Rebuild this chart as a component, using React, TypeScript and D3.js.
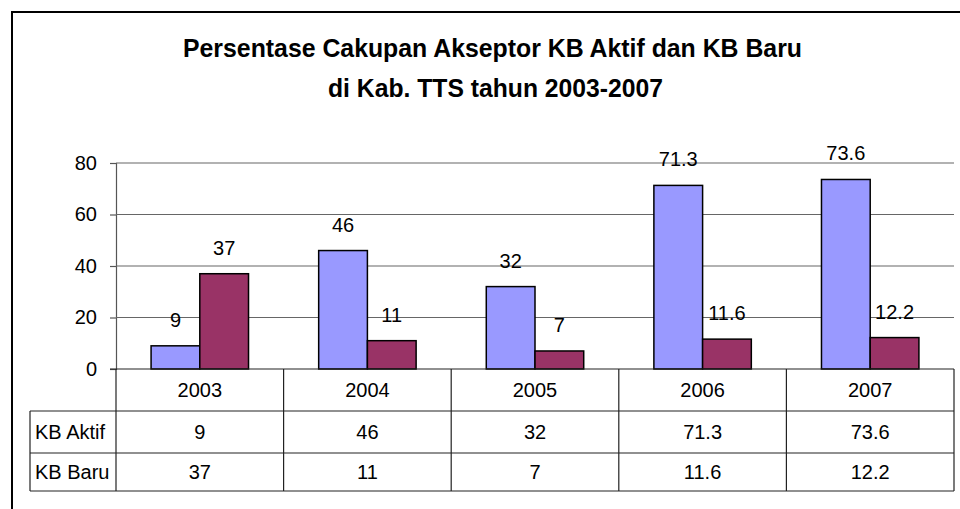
import React from "react";
import * as d3 from "d3";

const years = ["2003", "2004", "2005", "2006", "2007"];
const seriesNames = ["KB Aktif", "KB Baru"];
const kbAktif = [9, 46, 32, 71.3, 73.6];
const kbBaru = [37, 11, 7, 11.6, 12.2];
const yTicks = [0, 20, 40, 60, 80];
const colors = ["#9999FF", "#993366"];

const App = () => {
  const svgRef = React.useRef(null);
  const width = 960;
  const height = 509;
  const plot = { left: 116, right: 954, top: 163, bottom: 369 };
  const rowH = [42, 42, 38];
  const labelColLeft = 30;

  React.useEffect(() => {
    const svg = d3.select(svgRef.current);
    svg.selectAll("*").remove();
    const font = "'Liberation Sans', Arial, sans-serif";

    // outer frame
    svg.append("rect")
      .attr("x", 12).attr("y", 12)
      .attr("width", width + 20).attr("height", height + 20)
      .attr("fill", "white").attr("stroke", "black").attr("stroke-width", 2);

    // title
    const title = svg.append("g").attr("font-family", font).attr("font-weight", "bold")
      .attr("font-size", 26).attr("fill", "black");
    title.append("text").attr("x", 183).attr("y", 57)
      .attr("textLength", 619).attr("lengthAdjust", "spacingAndGlyphs")
      .text("Persentase Cakupan Akseptor KB Aktif dan KB Baru");
    title.append("text").attr("x", 328).attr("y", 97)
      .attr("textLength", 335).attr("lengthAdjust", "spacingAndGlyphs")
      .text("di Kab. TTS tahun 2003-2007");

    const y = d3.scaleLinear().domain([0, 80]).range([plot.bottom, plot.top]);
    const x0 = d3.scaleBand().domain(years).range([plot.left, plot.right]).padding(0);
    const x1 = d3.scaleBand().domain(seriesNames).range([0, x0.bandwidth()])
      .paddingInner(0).paddingOuter(0.72);

    // y axis with gridlines
    const yAxis = d3.axisLeft(y).tickValues(yTicks).tickSize(6).tickPadding(13);
    const yg = svg.append("g").attr("transform", `translate(${plot.left},0)`).call(yAxis);
    yg.select(".domain").attr("stroke", "#555").attr("stroke-width", 1.2);
    yg.selectAll("line").attr("stroke", "#555").attr("stroke-width", 1.2);
    yg.selectAll("text").attr("font-family", font).attr("font-size", 20).attr("fill", "black");

    svg.append("g").selectAll("line")
      .data(yTicks.filter((t) => t > 0))
      .enter().append("line")
      .attr("x1", plot.left).attr("x2", plot.right)
      .attr("y1", (d) => y(d)).attr("y2", (d) => y(d))
      .attr("stroke", "#666").attr("stroke-width", 1.2);

    // bars
    const data = years.map((yr, i) => ({ yr, values: [kbAktif[i], kbBaru[i]] }));
    const groups = svg.append("g").selectAll("g").data(data).enter().append("g")
      .attr("transform", (d) => `translate(${x0(d.yr)},0)`);
    groups.selectAll("rect")
      .data((d) => d.values.map((v, j) => ({ name: seriesNames[j], v, j })))
      .enter().append("rect")
      .attr("x", (d) => x1(d.name) as number)
      .attr("y", (d) => y(d.v))
      .attr("width", x1.bandwidth())
      .attr("height", (d) => plot.bottom - y(d.v))
      .attr("fill", (d) => colors[d.j])
      .attr("stroke", "black").attr("stroke-width", 1.5);
    groups.selectAll("text")
      .data((d) => d.values.map((v, j) => ({ name: seriesNames[j], v })))
      .enter().append("text")
      .attr("x", (d) => (x1(d.name) as number) + x1.bandwidth() / 2)
      .attr("y", (d) => y(d.v) - 19)
      .attr("text-anchor", "middle")
      .attr("font-family", font).attr("font-size", 20).attr("fill", "black")
      .text((d) => String(d.v));

    // data table
    const tbl = svg.append("g").attr("stroke", "#222").attr("stroke-width", 1.2);
    const r0 = plot.bottom;
    const r1 = r0 + rowH[0];
    const r2 = r1 + rowH[1];
    const r3 = r2 + rowH[2];
    tbl.append("line").attr("x1", plot.left - 6).attr("x2", plot.right).attr("y1", r0).attr("y2", r0);
    [r1, r2, r3].forEach((ry) => {
      tbl.append("line").attr("x1", labelColLeft).attr("x2", plot.right).attr("y1", ry).attr("y2", ry);
    });
    tbl.append("line").attr("x1", labelColLeft).attr("x2", labelColLeft).attr("y1", r1).attr("y2", r3);
    const bounds = years.map((yr) => x0(yr) as number).concat([plot.right]);
    bounds.forEach((bx) => {
      tbl.append("line").attr("x1", bx).attr("x2", bx).attr("y1", r0).attr("y2", r3);
    });

    const txt = svg.append("g").attr("font-family", font).attr("font-size", 20).attr("fill", "black");
    const cx = (yr: string) => (x0(yr) as number) + x0.bandwidth() / 2;
    txt.selectAll(".hdr").data(years).enter().append("text")
      .attr("x", (d) => cx(d)).attr("y", (r0 + r1) / 2 + 7)
      .attr("text-anchor", "middle").text((d) => d);
    const rows = [
      { name: seriesNames[0], vals: kbAktif, yc: (r1 + r2) / 2 + 7 },
      { name: seriesNames[1], vals: kbBaru, yc: (r2 + r3) / 2 + 7 },
    ];
    rows.forEach((row) => {
      txt.append("text").attr("x", labelColLeft + 5).attr("y", row.yc).text(row.name);
      txt.selectAll(null).data(row.vals).enter().append("text")
        .attr("x", (d, i) => cx(years[i])).attr("y", row.yc)
        .attr("text-anchor", "middle").text((d) => String(d));
    });
  }, []);

  return (
    <svg
      ref={svgRef}
      width={width}
      height={height}
      style={{ position: "absolute", left: 0, top: 0, display: "block", background: "white" }}
    />
  );
};

export default App;
